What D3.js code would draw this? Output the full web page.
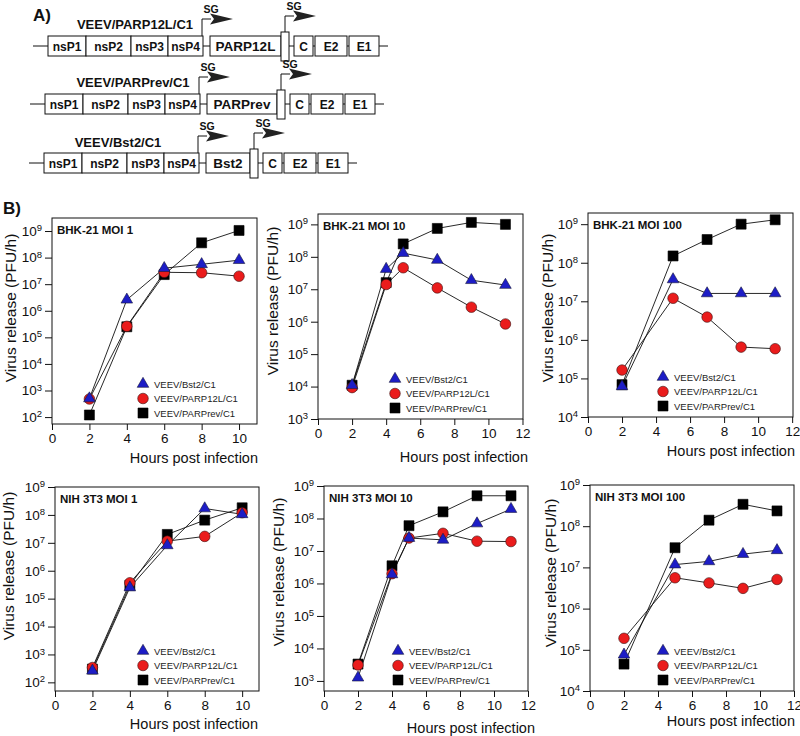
<!DOCTYPE html>
<html>
<head>
<meta charset="utf-8">
<script src="https://cdn.jsdelivr.net/npm/d3@7"></script>
<style>
  body { margin: 0; background: #fff; }
  svg { display: block; font-family: "Liberation Sans", Arial, sans-serif; }
</style>
</head>
<body>
<svg id="fig" width="800" height="736"></svg>
<script>
// ---------- data ----------
const seriesNames = ["VEEV/Bst2/C1", "VEEV/PARP12L/C1", "VEEV/PARPrev/C1"];

const constructNames = ["VEEV/PARP12L/C1", "VEEV/PARPrev/C1", "VEEV/Bst2/C1"];
const insertNames = ["PARP12L", "PARPrev", "Bst2"];
const nsGenes = ["nsP1", "nsP2", "nsP3", "nsP4"];
const structGenes = ["C", "E2", "E1"];

const panelTitles = ["BHK-21 MOI 1", "BHK-21 MOI 10", "BHK-21 MOI 100",
                     "NIH 3T3 MOI 1", "NIH 3T3 MOI 10", "NIH 3T3 MOI 100"];

const hoursMoi1 = [2, 4, 6, 8, 10];
const hoursMoi10 = [2, 4, 5, 7, 9, 11];
const hoursMoi100 = [2, 5, 7, 9, 11];

const bhk1Bst2 = [500, 2.6e6, 4e7, 5.6e7, 8e7];
const bhk1Parp12l = [480, 2.6e5, 2.8e7, 2.7e7, 2e7];
const bhk1Parprev = [120, 2.5e5, 2.3e7, 3.6e8, 1.05e9];

const bhk10Bst2 = [1.1e4, 4.2e7, 1.3e8, 8e7, 1.9e7, 1.35e7];
const bhk10Parp12l = [9.3e3, 1.4e7, 4.6e7, 1.1e7, 2.8e6, 8.5e5];
const bhk10Parprev = [1.1e4, 1.6e7, 2.5e8, 7.5e8, 1.15e9, 1.0e9];

const bhk100Bst2 = [6.2e4, 3.7e7, 1.6e7, 1.6e7, 1.6e7];
const bhk100Parp12l = [1.65e5, 1.2e7, 3.9e6, 6.5e5, 5.9e5];
const bhk100Parprev = [6.9e4, 1.5e8, 4e8, 1e9, 1.3e9];

const nih1Bst2 = [260, 2.5e5, 8.1e6, 1.7e8, 1.05e8];
const nih1Parp12l = [340, 3.7e5, 1.15e7, 1.7e7, 1.2e8];
const nih1Parprev = [300, 3e5, 2e7, 6.5e7, 1.8e8];

const nih10Bst2 = [1.26e3, 1.9e6, 2.5e7, 2.2e7, 7e7, 1.95e8];
const nih10Parp12l = [3.1e3, 2e6, 2.5e7, 3.5e7, 2e7, 1.95e7];
const nih10Parprev = [3.3e3, 3.5e6, 6e7, 1.6e8, 5e8, 5e8];

const nih100Bst2 = [7.6e4, 1.17e7, 1.4e7, 2.1e7, 2.6e7];
const nih100Parp12l = [1.9e5, 5.6e6, 4.2e6, 3.1e6, 5.1e6];
const nih100Parprev = [4.5e4, 3e7, 1.4e8, 3.4e8, 2.35e8];

const xTicksMoi1 = [0, 2, 4, 6, 8, 10];
const xTicksLong = [0, 2, 4, 6, 8, 10, 12];

// ---------- layout ----------
const svg = d3.select("#fig");
svg.append("rect").attr("width", 800).attr("height", 736).attr("fill", "#fff");

const ink = "#111";

// panel A : construct schematics
svg.append("text").attr("x", 33).attr("y", 21).attr("font-size", 17)
  .attr("font-weight", "bold").attr("fill", ink).text("A)");

const rowLayout = [
  { y: 36, x0: 48, insertW: 71, labelX: 135, labelY: 29 },
  { y: 94, x0: 45, insertW: 70, labelX: 133, labelY: 87 },
  { y: 153, x0: 44, insertW: 44, labelX: 118, labelY: 147 }
];
const nsW = [38, 45, 37, 35];
const structW = [19, 32, 30];
const boxH = 20;

function sgArrow(g, x, base, top) {
  g.append("path")
    .attr("d", `M${x},${base}V${top}H${x + 9}`)
    .attr("fill", "none").attr("stroke", ink).attr("stroke-width", 1);
  g.append("path")
    .attr("d", `M${x + 8},${top - 5.5}L${x + 31},${top}L${x + 8},${top + 5.5}L${x + 12},${top}Z`)
    .attr("fill", "#222");
  g.append("text").attr("x", x + 9).attr("y", top - 6)
    .attr("text-anchor", "middle").attr("font-size", 10.5).attr("font-weight", "bold")
    .attr("fill", ink).text("SG");
}

constructNames.forEach((name, i) => {
  const r = rowLayout[i];
  const g = svg.append("g");
  const mid = r.y + boxH / 2;

  const nsX = [r.x0];
  nsW.forEach(w => nsX.push(nsX[nsX.length - 1] + w));
  const nsEnd = nsX[4];
  const insX = nsEnd + 7;
  const smallX = insX + r.insertW;
  const smallW = 8;
  const sX = [smallX + smallW + 5];
  structW.forEach(w => sX.push(sX[sX.length - 1] + w + 2));
  const end = sX[3] - 2;

  g.append("line").attr("x1", r.x0 - 15).attr("x2", end + 9)
    .attr("y1", mid).attr("y2", mid).attr("stroke", ink).attr("stroke-width", 1);

  const boxes = nsGenes.map((n, k) => ({ label: n, x: nsX[k], w: nsW[k], size: 12 }))
    .concat([{ label: insertNames[i], x: insX, w: r.insertW, size: 13.5 }])
    .concat(structGenes.map((n, k) => ({ label: n, x: sX[k], w: structW[k], size: 12 })));

  g.selectAll("rect.gene").data(boxes).enter().append("rect")
    .attr("x", d => d.x).attr("y", r.y).attr("width", d => d.w).attr("height", boxH)
    .attr("fill", "#fff").attr("stroke", ink).attr("stroke-width", 1);
  g.selectAll("text.gene").data(boxes).enter().append("text")
    .attr("x", d => d.x + d.w / 2).attr("y", mid + 4.5)
    .attr("text-anchor", "middle").attr("font-size", d => d.size).attr("font-weight", "bold")
    .attr("fill", ink).text(d => d.label);

  g.append("rect").attr("x", smallX).attr("y", r.y - 4).attr("width", smallW).attr("height", boxH + 9)
    .attr("fill", "#fff").attr("stroke", ink).attr("stroke-width", 1);

  g.append("text").attr("x", r.labelX).attr("y", r.labelY).attr("text-anchor", "middle")
    .attr("font-size", 13).attr("font-weight", "bold").attr("fill", ink).text(name);

  sgArrow(g, nsEnd - 1, r.y, r.y - 17);
  sgArrow(g, smallX + smallW / 2, r.y - 4, r.y - 20);
});

// panel B : growth curves
svg.append("text").attr("x", 3).attr("y", 214).attr("font-size", 17)
  .attr("font-weight", "bold").attr("fill", ink).text("B)");

const panels = [
  { hours: hoursMoi1, vals: [bhk1Bst2, bhk1Parp12l, bhk1Parprev], xTicks: xTicksMoi1,
    left: 52, top: 218, w: 205, h: 206, yLo: 1.74, yHi: 9.49, xHi: 10.96,
    yTx: 16, yTy: 308, xTy: 463, xTx: 258, legX: 143 },
  { hours: hoursMoi10, vals: [bhk10Bst2, bhk10Parp12l, bhk10Parprev], xTicks: xTicksLong,
    left: 318, top: 214, w: 205, h: 205, yLo: 3, yHi: 9.32, xHi: 12.03,
    yTx: 278, yTy: 301, xTy: 462, xTx: 528, legX: 395 },
  { hours: hoursMoi100, vals: [bhk100Bst2, bhk100Parp12l, bhk100Parprev], xTicks: xTicksLong,
    left: 588, top: 213, w: 205, h: 204, yLo: 4, yHi: 9.29, xHi: 12.05,
    yTx: 553, yTy: 308, xTy: 456, xTx: 795, legX: 663 },
  { hours: hoursMoi1, vals: [nih1Bst2, nih1Parp12l, nih1Parprev], xTicks: xTicksMoi1,
    left: 55, top: 487, w: 204, h: 204, yLo: 1.69, yHi: 9, xHi: 10.9,
    yTx: 14, yTy: 566, xTy: 729, xTx: 258, legX: 143 },
  { hours: hoursMoi10, vals: [nih10Bst2, nih10Parp12l, nih10Parprev], xTicks: xTicksLong,
    left: 324, top: 486, w: 204, h: 205, yLo: 2.69, yHi: 9, xHi: 12,
    yTx: 284, yTy: 572, xTy: 733, xTx: 535, legX: 398 },
  { hours: hoursMoi100, vals: [nih100Bst2, nih100Parp12l, nih100Parprev], xTicks: xTicksLong,
    left: 590, top: 485, w: 204, h: 206, yLo: 4, yHi: 9, xHi: 12,
    yTx: 556, yTy: 573, xTy: 726, xTx: 795, legX: 663 }
];

const markerStyle = [
  { type: d3.symbolTriangle, size: 58, fill: "#1d1dc6", stroke: "#1a1a3a" },
  { type: d3.symbolCircle, size: 88, fill: "#ea1c1c", stroke: "#3a1010" },
  { type: d3.symbolSquare, size: 100, fill: "#000", stroke: "#000" }
];
const drawOrder = [2, 1, 0];

panels.forEach((p, pi) => {
  const g = svg.append("g").attr("transform", `translate(${p.left},${p.top})`);
  const x = d3.scaleLinear().domain([0, p.xHi]).range([0, p.w]);
  const y = d3.scaleLog().domain([10 ** p.yLo, 10 ** p.yHi]).range([p.h, 0]);
  const exps = d3.range(Math.ceil(p.yLo), Math.floor(p.yHi) + 1);

  const gy = g.append("g")
    .call(d3.axisLeft(y).tickValues(exps.map(e => 10 ** e)).tickSize(7).tickPadding(3).tickSizeOuter(0))
    .attr("font-family", null).attr("font-size", 13.5);
  gy.select(".domain").remove();
  gy.selectAll(".tick line").attr("stroke", ink);
  gy.selectAll(".tick text").attr("fill", ink).each(function (d) {
    const t = d3.select(this).text(null);
    t.append("tspan").text("10");
    t.append("tspan").attr("dy", "-0.5em").attr("font-size", 9.5).text(Math.round(Math.log10(d)));
  });

  const gx = g.append("g").attr("transform", `translate(0,${p.h})`)
    .call(d3.axisBottom(x).tickValues(p.xTicks).tickSize(6).tickPadding(3).tickSizeOuter(0))
    .attr("font-family", null).attr("font-size", 13.5);
  gx.select(".domain").remove();
  gx.selectAll(".tick line").attr("stroke", ink);
  gx.selectAll(".tick text").attr("fill", ink);

  g.append("rect").attr("width", p.w).attr("height", p.h)
    .attr("fill", "none").attr("stroke", ink).attr("stroke-width", 1);

  g.append("text").attr("x", 5).attr("y", 16).attr("font-size", 11.5).attr("font-weight", "bold")
    .attr("fill", ink).text(panelTitles[pi]);

  const line = d3.line().x(d => x(d[0])).y(d => y(d[1]));
  drawOrder.forEach(s => {
    const pts = p.hours.map((h, k) => [h, p.vals[s][k]]);
    g.append("path").datum(pts).attr("d", line)
      .attr("fill", "none").attr("stroke", ink).attr("stroke-width", 0.9);
  });
  drawOrder.forEach(s => {
    const m = markerStyle[s];
    const pts = p.hours.map((h, k) => [h, p.vals[s][k]]);
    g.selectAll(null).data(pts).enter().append("path")
      .attr("d", d3.symbol().type(m.type).size(m.size))
      .attr("transform", d => `translate(${x(d[0])},${y(d[1])})`)
      .attr("fill", m.fill).attr("stroke", m.stroke).attr("stroke-width", 0.6);
  });

  // legend
  const lg = svg.append("g");
  seriesNames.forEach((n, s) => {
    const ly = p.top + p.h - 40 + s * 14.5;
    const m = markerStyle[s];
    lg.append("path").attr("d", d3.symbol().type(m.type).size(m.size))
      .attr("transform", `translate(${p.legX},${ly})`)
      .attr("fill", m.fill).attr("stroke", m.stroke).attr("stroke-width", 0.6);
    lg.append("text").attr("x", p.legX + 11).attr("y", ly + 3.5).attr("font-size", 9.5)
      .attr("fill", "#222").text(n);
  });

  // axis titles
  svg.append("text").attr("x", p.xTx).attr("y", p.xTy).attr("text-anchor", "end")
    .attr("font-size", 14.5).attr("fill", ink).text("Hours post infection");
  svg.append("text").attr("transform", `translate(${p.yTx},${p.yTy}) rotate(-90)`)
    .attr("text-anchor", "middle").attr("font-size", 15.5).attr("fill", ink)
    .text("Virus release (PFU/h)");
});
</script>
</body>
</html>
